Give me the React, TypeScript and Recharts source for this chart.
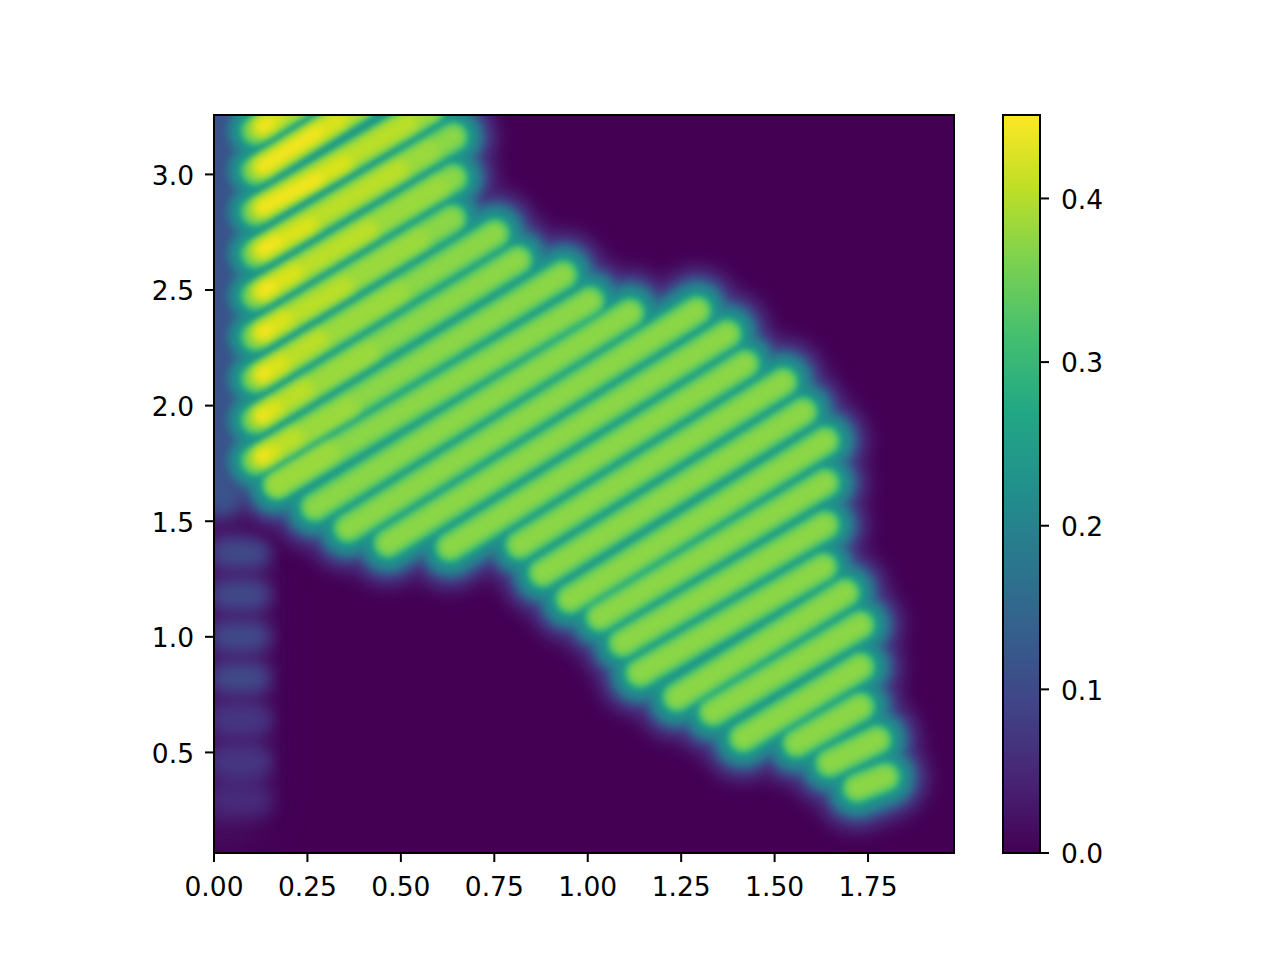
import { LineChart, BarChart, Line, Bar, XAxis, YAxis } from 'recharts'

const xTicks = [0, 0.25, 0.5, 0.75, 1, 1.25, 1.5, 1.75]
const yTicks = [0.5, 1, 1.5, 2, 2.5, 3]
const barTicks = [0, 0.1, 0.2, 0.3, 0.4]
const xRange = [0, 1.98]
const yRange = [0.065, 3.257]
const barMax = 0.451

// lower-left and upper-right end of each ridge
const ridgeStartX = [0.112, 0.112, 0.112, 0.112, 0.112, 0.112, 0.112, 0.112, 0.112, 0.169, 0.27, 0.359, 0.466, 0.632, 0.819, 0.88, 0.953, 1.033, 1.094, 1.14, 1.239, 1.335, 1.416, 1.56, 1.648, 1.721]
const ridgeStartY = [3.189, 3.016, 2.839, 2.657, 2.476, 2.298, 2.117, 1.939, 1.762, 1.657, 1.562, 1.471, 1.406, 1.389, 1.398, 1.277, 1.164, 1.086, 0.974, 0.844, 0.74, 0.675, 0.563, 0.541, 0.455, 0.347]
const ridgeEndX = [0.23, 0.391, 0.578, 0.64, 0.64, 0.637, 0.752, 0.813, 0.934, 1.006, 1.113, 1.292, 1.373, 1.421, 1.523, 1.576, 1.635, 1.635, 1.635, 1.63, 1.689, 1.729, 1.729, 1.729, 1.774, 1.796]
const ridgeEndY = [3.309, 3.296, 3.279, 3.162, 2.985, 2.808, 2.743, 2.63, 2.565, 2.453, 2.401, 2.41, 2.31, 2.18, 2.102, 1.973, 1.847, 1.666, 1.484, 1.302, 1.19, 1.051, 0.87, 0.697, 0.554, 0.394]

// where the hot part of the top ridges starts, and how far each level reaches
const hotStartX = [0.128, 0.128, 0.128, 0.128, 0.128, 0.128, 0.128, 0.128, 0.128, 0.169]
const hotStartY = [3.205, 3.032, 2.855, 2.673, 2.492, 2.314, 2.133, 1.955, 1.778, 1.657]
const warmEndX = [0.23, 0.391, 0.578, 0.578, 0.605, 0.551, 0.498, 0.417, 0.364, 0.31]
const warmEndY = [3.309, 3.296, 3.279, 3.102, 2.95, 2.721, 2.492, 2.232, 1.994, 1.8]
const limeEndX = [0.23, 0.391, 0.524, 0.498, 0.417, 0.351, 0.284, 0.244, 0.217]
const limeEndY = [3.309, 3.296, 3.227, 3.024, 2.764, 2.518, 2.289, 2.072, 1.865]
const brightEndX = [0.163, 0.337, 0.351, 0.257, 0.217, 0.19, 0.182, 0.163, 0.155]
const brightEndY = [3.24, 3.24, 3.05, 2.782, 2.578, 2.375, 2.185, 1.99, 1.804]
const yellowEndX = [0.144, 0.278, 0.278, 0.169, 0.155, 0.144, 0.139, 0.134, 0.134]
const yellowEndY = [3.223, 3.184, 2.98, 2.712, 2.518, 2.327, 2.146, 1.96, 1.783]

// faint blobs down the left edge
const blobStartX = 0.03
const blobEndX = 0.11
const blobAllY = [1.363, 1.181, 1.0, 0.822, 0.641, 0.459, 0.295]
const blobUpperY = [1.363, 1.181, 1.0, 0.822]
const blobMidY = [0.641, 0.459]

// iso-value rings of the ridges, outermost first
const ringColors = ['#470e61', '#481c6e', '#472d7b', '#443a83', '#3b528b', '#2f6c8e', '#27808e', '#1f968b', '#2db27d', '#4ac16d', '#6ccd5a', '#8bd646']
const ringWidths = [100, 90, 80, 72, 64, 60, 52, 44, 30, 26, 22, 17]
const ringBlurs = [8, 8, 6, 6, 5, 5, 4, 4, 3, 3, 3, 3]

const viridisStops = ['#440154', '#482475', '#414487', '#355f8d', '#2a788e', '#21918c', '#22a884', '#44bf70', '#7ad151', '#bddf26', '#fde725']
const barData = [{ name: 'scale', value: barMax }]

type Pt = { x: number; y: number | null }

const segments = (sx: number[], sy: number[], ex: number[], ey: number[]): Pt[] =>
  ex.flatMap((x, i) => [
    { x: sx[i], y: sy[i] },
    { x, y: ey[i] },
    { x, y: null }
  ])

const ridges = segments(ridgeStartX, ridgeStartY, ridgeEndX, ridgeEndY)
const blobs = (ys: number[]) =>
  ys.flatMap((y) => [
    { x: blobStartX, y },
    { x: blobEndX, y },
    { x: blobEndX, y: null }
  ])

const midY = (yRange[0] + yRange[1]) / 2
const background: Pt[] = [
  { x: xRange[0], y: midY },
  { x: xRange[1], y: midY }
]

const frame: Pt[] = [
  { x: xRange[0], y: yRange[0] },
  { x: xRange[1], y: yRange[0] },
  { x: xRange[1], y: yRange[1] },
  { x: xRange[0], y: yRange[1] },
  { x: xRange[0], y: yRange[0] }
]

const ringLayers = ringColors.map((stroke, i) => ({ data: ridges, stroke, width: ringWidths[i], blur: ringBlurs[i] }))

const layers: { data: Pt[]; stroke: string; width: number; blur: number }[] = [
  { data: [{ x: 0.02, y: 0.3 }, { x: 0.02, y: 1.5 }], stroke: '#45085a', width: 120, blur: 12 },
  { data: [{ x: 0.02, y: 0.35 }, { x: 0.02, y: 1.5 }], stroke: '#471365', width: 84, blur: 12 },
  { data: blobs(blobAllY), stroke: '#472a7a', width: 34, blur: 8 },
  { data: blobs(blobMidY), stroke: '#453781', width: 24, blur: 8 },
  { data: blobs(blobUpperY), stroke: '#3f4d8a', width: 24, blur: 8 },
  ...ringLayers.slice(0, 5),
  { data: [{ x: 0.02, y: 1.62 }, { x: 0.02, y: 3.3 }], stroke: '#3b528b', width: 50, blur: 8 },
  ...ringLayers.slice(5),
  { data: segments(hotStartX, hotStartY, warmEndX, warmEndY), stroke: '#9ad93c', width: 18, blur: 4 },
  { data: segments(hotStartX, hotStartY, limeEndX, limeEndY), stroke: '#bddf26', width: 16, blur: 5 },
  { data: segments(hotStartX, hotStartY, brightEndX, brightEndY), stroke: '#dde318', width: 14, blur: 5 },
  { data: segments(hotStartX, hotStartY, yellowEndX, yellowEndY), stroke: '#f8e621', width: 9, blur: 4 }
]

const blurLevels = [3, 4, 5, 6, 8, 12]
const blurId = (b: number) => `soft-${b}`

const tickStyle = { fontSize: 26.5, fontFamily: '"DejaVu Sans"', fill: '#000', dy: 1 }
const tickLine = { stroke: '#000', strokeWidth: 2 }

const App = () => (
  <div style={{ position: 'absolute', left: 0, top: 0, width: 1280, height: 960, background: '#fff' }}>
    <style>{`
      .frame path { clip-path: none; }
      ${blurLevels.map((b) => `.${blurId(b)} path { filter: blur(${b}px); }`).join('\n')}
    `}</style>

    {/* main map */}
    <div style={{ position: 'absolute', left: 0, top: 0 }}>
      <LineChart width={1000} height={960} margin={{ top: 115, right: 46, bottom: 47, left: 134 }}>
        <XAxis
          type="number"
          dataKey="x"
          domain={xRange}
          ticks={xTicks}
          allowDataOverflow
          interval={0}
          height={60}
          tick={{ ...tickStyle, dy: 0 }}
          tickSize={9}
          tickMargin={15}
          tickLine={tickLine}
          axisLine={false}
          tickFormatter={(v: number) => v.toFixed(2)}
        />
        <YAxis
          type="number"
          dataKey="y"
          domain={yRange}
          ticks={yTicks}
          allowDataOverflow
          interval={0}
          width={80}
          tick={tickStyle}
          tickSize={9}
          tickMargin={11}
          tickLine={tickLine}
          axisLine={false}
          tickFormatter={(v: number) => v.toFixed(1)}
        />
        <Line data={background} dataKey="y" stroke="#440154" strokeWidth={738} dot={false} isAnimationActive={false} />
        {layers.map((l, i) => (
          <Line
            key={i}
            data={l.data}
            dataKey="y"
            stroke={l.stroke}
            strokeWidth={l.width}
            strokeLinecap="round"
            strokeLinejoin="round"
            dot={false}
            className={blurId(l.blur)}
            isAnimationActive={false}
          />
        ))}
        <Line data={frame} dataKey="y" stroke="#000" strokeWidth={2} dot={false} className="frame" isAnimationActive={false} />
      </LineChart>
    </div>

    {/* colour bar */}
    <div style={{ position: 'absolute', left: 960, top: 0 }}>
      <BarChart
        width={200}
        height={960}
        data={barData}
        barCategoryGap={0}
        margin={{ top: 115, right: 40, bottom: 107, left: 43 }}
      >
        <defs>
          <linearGradient id="viridis" x1="0" y1="1" x2="0" y2="0">
            {viridisStops.map((c, i) => (
              <stop key={c} offset={i / (viridisStops.length - 1)} stopColor={c} />
            ))}
          </linearGradient>
        </defs>
        <XAxis dataKey="name" hide />
        <YAxis
          orientation="right"
          domain={[0, barMax]}
          ticks={barTicks}
          interval={0}
          width={80}
          tick={{ ...tickStyle, textAnchor: 'start' }}
          tickSize={9}
          tickMargin={12}
          tickLine={tickLine}
          axisLine={false}
          tickFormatter={(v: number) => v.toFixed(1)}
        />
        <Bar dataKey="value" fill="url(#viridis)" stroke="#000" strokeWidth={2} isAnimationActive={false} />
      </BarChart>
    </div>
  </div>
)

export default App
